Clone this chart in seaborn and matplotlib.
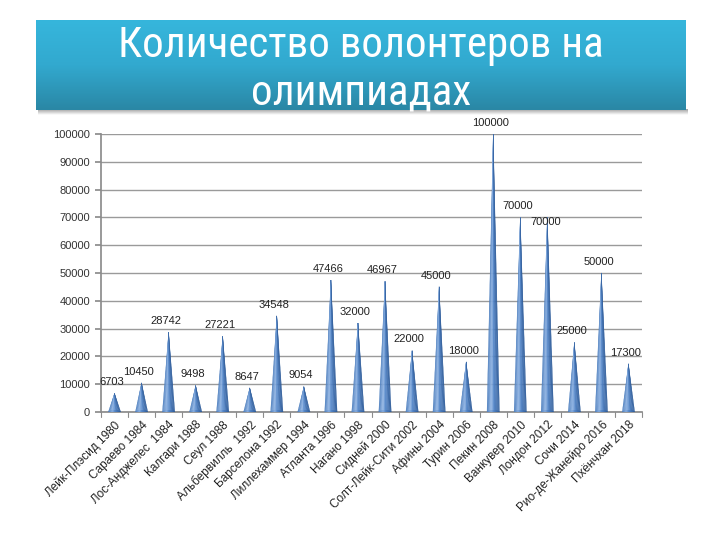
import numpy as np
import pandas as pd
import matplotlib
matplotlib.use("Agg")
import matplotlib.pyplot as plt
import seaborn as sns
from matplotlib.patches import Polygon, Ellipse
from matplotlib.colors import LinearSegmentedColormap

games = ["Лейк-Плэсид 1980", "Сараево 1984", "Лос-Анджелес  1984", "Калгари 1988",
         "Сеул 1988", "Альбервилль  1992", "Барселона 1992", "Лиллехаммер 1994",
         "Атланта 1996", "Нагано 1998", "Сидней 2000", "Солт-Лейк-Сити 2002",
         "Афины 2004", "Турин 2006", "Пекин 2008", "Ванкувер 2010",
         "Лондон 2012", "Сочи 2014", "Рио-де-Жанейро 2016", "Пхёнчхан 2018"]
volunteers = [6703, 10450, 28742, 9498, 27221, 8647, 34548, 9054, 47466, 32000,
              46967, 22000, 45000, 18000, 100000, 70000, 70000, 25000, 50000, 17300]
yticks = [0, 10000, 20000, 30000, 40000, 50000, 60000, 70000, 80000, 90000, 100000]
title = "Количество волонтеров на\nолимпиадах"

sns.set_theme(style="white")
plt.rcParams['font.family'] = ['Liberation Sans', 'DejaVu Sans']

df = pd.DataFrame({"game": games, "n": volunteers})

fig = plt.figure(figsize=(7.2, 5.4), dpi=100)

# Banner
bax = fig.add_axes([36/720, 1-110/540, 650/720, 90/540])
grad = np.linspace(0, 1, 100).reshape(-1, 1)
cmap = LinearSegmentedColormap.from_list("b", ["#36b6dc", "#32a9cf", "#2a87a5"])
bax.imshow(grad, aspect="auto", cmap=cmap, extent=[0, 1, 0, 1], origin="upper")
bax.set_xlim(0, 1); bax.set_ylim(0, 1)
bax.axis("off")
sax = fig.add_axes([38/720, 1-115/540, 650/720, 6/540])
sgrad = np.linspace(0, 1, 20).reshape(-1, 1)
sax.imshow(sgrad, aspect="auto", cmap=LinearSegmentedColormap.from_list("s", ["#a0a0a0", "#ffffff"]),
           extent=[0, 1, 0, 1], origin="upper")
sax.axis("off")
sax.set_zorder(-1)
fig.text(361/720, 1-69/540, title, ha="center", va="center", color="white",
         fontsize=31, linespacing=1.2,
         family=["Roboto Condensed", "Liberation Sans Narrow", "DejaVu Sans"])

ax = fig.add_axes([101/720, 1-412/540, 541/720, 278/540])
sns.barplot(data=df, x="game", y="n", ax=ax, color="#4f81bd", width=0.46, saturation=1)

cone_cmap = LinearSegmentedColormap.from_list(
    "cone", [(0, "#4a7cbd"), (0.35, "#8fb3e3"), (0.55, "#5588cb"), (1, "#2d5a98")])
nslice = 14
for p in list(ax.patches):
    x0 = p.get_x(); w = p.get_width(); h = p.get_height()
    xc = x0 + w / 2
    ax.add_patch(Ellipse((xc, 0), w, 1400, facecolor="#3d6cae", edgecolor="none", zorder=2.9))
    for k in range(nslice):
        a = x0 + w * k / nslice
        b = x0 + w * (k + 1) / nslice
        col = cone_cmap((k + 0.5) / nslice)
        ax.add_patch(Polygon([[a, 0], [xc, h], [b, 0]], closed=True, facecolor=col,
                             edgecolor=col, linewidth=0.2, zorder=3))
    p.set_visible(False)

for i, v in enumerate(volunteers):
    dx, dy = -0.1, 2300
    if i > 0 and v == volunteers[i - 1]:
        dx, dy = -0.05, -3500
    ax.text(i + dx, v + dy, f"{v}", ha="center", va="bottom", fontsize=8,
            color="#222222", clip_on=False, zorder=5)

ax.set_ylim(0, 100000)
ax.set_xlim(-0.5, len(games) - 0.5)
ax.set_yticks(yticks)
ax.set_yticklabels([str(t) for t in yticks], fontsize=8, color="#333333")
ax.yaxis.grid(True, color="#9a9a9a", linewidth=1.0)
ax.set_axisbelow(True)
ax.set_xlabel(""); ax.set_ylabel("")
ax.set_xticks(np.arange(len(games)))
ax.set_xticklabels(games, rotation=45, ha="right", rotation_mode="anchor", fontsize=8.5, color="#222222")
ax.tick_params(axis="x", length=0, pad=5)
ax.tick_params(axis="y", length=4, color="#8c8c8c", left=True, pad=4)
for b in np.arange(-0.5, len(games), 1):
    ax.plot([b, b], [0, -1800], color="#8c8c8c", lw=0.8, clip_on=False)
for s in ["top", "right"]:
    ax.spines[s].set_visible(False)
ax.spines["left"].set_color("#8c8c8c")
ax.spines["bottom"].set_color("#8c8c8c")

fig.savefig("out.png", dpi=100)
